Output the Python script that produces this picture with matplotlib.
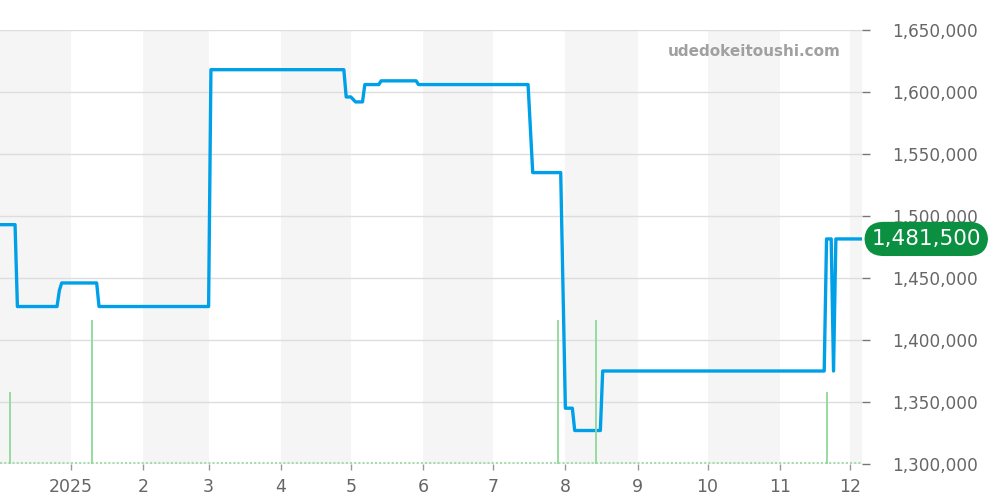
import numpy as np
import matplotlib.pyplot as plt
from matplotlib.ticker import FuncFormatter
from datetime import datetime

# price series (breakpoints of the step-like line)
price_dates = ['2024-12-01', '2024-12-08', '2024-12-09', '2024-12-26', '2024-12-27', '2024-12-28',
               '2025-01-12', '2025-01-13', '2025-03-01', '2025-03-02', '2025-04-28', '2025-04-29',
               '2025-05-01', '2025-05-03', '2025-05-06', '2025-05-07', '2025-05-13', '2025-05-14',
               '2025-05-29', '2025-05-30', '2025-07-16', '2025-07-18', '2025-07-30', '2025-08-01',
               '2025-08-04', '2025-08-05', '2025-08-16', '2025-08-17', '2025-11-20', '2025-11-21',
               '2025-11-23', '2025-11-24', '2025-11-25', '2025-12-06']
prices = [1493000, 1493000, 1427000, 1427000, 1440000, 1446000,
          1446000, 1427000, 1427000, 1618000, 1618000, 1596000,
          1596000, 1592000, 1592000, 1606000, 1606000, 1609000,
          1609000, 1606000, 1606000, 1535000, 1535000, 1345000,
          1345000, 1327000, 1327000, 1375000, 1375000, 1481500,
          1481500, 1375000, 1481500, 1481500]

# trade counts (green bars)
vol_dates = ['2024-12-06', '2025-01-10', '2025-07-29', '2025-08-14', '2025-11-21']
vol_counts = [1, 2, 2, 2, 1]

month_starts = ['2024-12-01', '2025-01-01', '2025-02-01', '2025-03-01', '2025-04-01', '2025-05-01',
                '2025-06-01', '2025-07-01', '2025-08-01', '2025-09-01', '2025-10-01', '2025-11-01',
                '2025-12-01', '2026-01-01']
month_labels = ['', '2025', '2', '3', '4', '5', '6', '7', '8', '9', '10', '11', '12']

y_ticks = [1300000, 1350000, 1400000, 1450000, 1500000, 1550000, 1600000, 1650000]
last_price = 1481500

pd_ = [datetime.strptime(d, '%Y-%m-%d') for d in price_dates]
vd = [datetime.strptime(d, '%Y-%m-%d') for d in vol_dates]
ms = [datetime.strptime(d, '%Y-%m-%d') for d in month_starts]

x0 = datetime(2024, 12, 1, 13)
x1 = datetime(2025, 12, 6, 5)

fig = plt.figure(figsize=(10, 5), dpi=100)
ax = fig.add_axes([0.0, 0.072, 0.862, 0.868])

# alternating month shading
for i in range(0, len(ms) - 1, 2):
    ax.axvspan(ms[i], ms[i + 1], color='#f5f5f5', lw=0, zorder=0)

for y in y_ticks:
    ax.axhline(y, color='#dddddd', lw=1, zorder=1)

ax.plot(pd_, prices, color='#00a0e9', lw=2.4, zorder=4, solid_joinstyle='round')

# volume on a twin axis
ax2 = ax.twinx()
ax2.set_ylim(0, 6.03)
ax2.vlines(vd, 0, vol_counts, color='#8fd89a', lw=1.3, zorder=3)
ax2.axhline(0.02, color='#a6dcae', lw=1.5, linestyle=(0, (1, 1)))
ax2.set_axis_off()

ax.set_xlim(x0, x1)
ax2.set_xlim(x0, x1)
ax.set_ylim(1300000, 1650000)

for s in ax.spines.values():
    s.set_visible(False)

ax.yaxis.tick_right()
ax.set_yticks(y_ticks)
ax.yaxis.set_major_formatter(FuncFormatter(lambda v, p: f'{int(v):,}'))
ax.tick_params(axis='y', which='both', left=False, right=True, labelleft=False, labelright=True,
               length=6, width=1, color='#777777', labelcolor='#666666', labelsize=12.2, pad=15.5)

ax.set_xticks(ms[1:-1])
ax.set_xticklabels(month_labels[1:])
ax.tick_params(axis='x', length=4, width=1, color='#999999', labelcolor='#666666',
               labelsize=12.5, pad=6)

# watermark
ax.text(0.975, 0.95, 'udedokeitoushi.com', transform=ax.transAxes, ha='right', va='center',
        fontsize=11, fontweight='bold', color='#a0a0a0')

# last price badge
ax.text(1.011, last_price, f'{last_price:,}', transform=ax.get_yaxis_transform(),
        ha='left', va='center', fontsize=15.5, color='white', zorder=10,
        bbox=dict(boxstyle='round,pad=0.33,rounding_size=0.9', fc='#0a9040', ec='none'))

fig.savefig('out.png', dpi=100)
